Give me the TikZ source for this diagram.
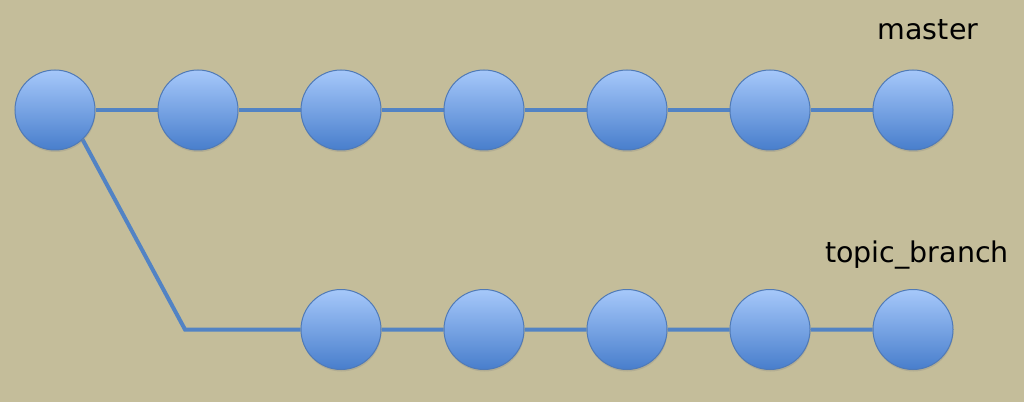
\documentclass[tikz,border=0pt]{standalone}
\usepackage{fontspec}
\usepackage{tikz}
\usetikzlibrary{shadows}
\newfontfamily\labelfont{DejaVu Sans}
\definecolor{paper}{RGB}{196,189,154}
\definecolor{committop}{RGB}{166,200,250}
\definecolor{commitbot}{RGB}{72,126,204}
\definecolor{commitrim}{RGB}{80,122,182}
\definecolor{branchline}{RGB}{82,131,196}
\pgfdeclarelayer{paperlayer}
\pgfdeclarelayer{linelayer}
\pgfsetlayers{paperlayer,linelayer,main}

\begin{document}
\begin{tikzpicture}[x=1pt, y=1pt,
  commit/.style={circle, minimum size=80pt, inner sep=0pt, draw=commitrim, line width=1pt,
    top color=committop, bottom color=commitbot,
    drop shadow={opacity=0.25, shadow xshift=0.5pt, shadow yshift=-2pt}},
  branch/.style={draw=branchline, line width=4pt},
  refname/.style={font=\labelfont\fontsize{28.5}{32}\selectfont, anchor=base, inner sep=0pt}]
\begin{pgfonlayer}{paperlayer}
\fill[paper] (0, 0) rectangle (1024, 402);
\end{pgfonlayer}

% master
\foreach \i in {0,...,6}
  \node[commit] (m\i) at (55 + 143*\i, 292) {};
% topic_branch
\foreach \i in {2,...,6}
  \node[commit] (t\i) at (55 + 143*\i, 72.5) {};
\coordinate (fork) at (185, 72.5);

\begin{pgfonlayer}{linelayer}
\draw[branch] (m0) -- (m1) -- (m2) -- (m3) -- (m4) -- (m5) -- (m6);
\draw[branch] (m0.-47) -- (fork) -- (t2) -- (t3) -- (t4) -- (t5) -- (t6);
\end{pgfonlayer}

\node[refname] (mlabel) at (928, 362) {master};
\node[refname] (tlabel) at (917, 140) {topic\_branch};
\end{tikzpicture}
\end{document}
